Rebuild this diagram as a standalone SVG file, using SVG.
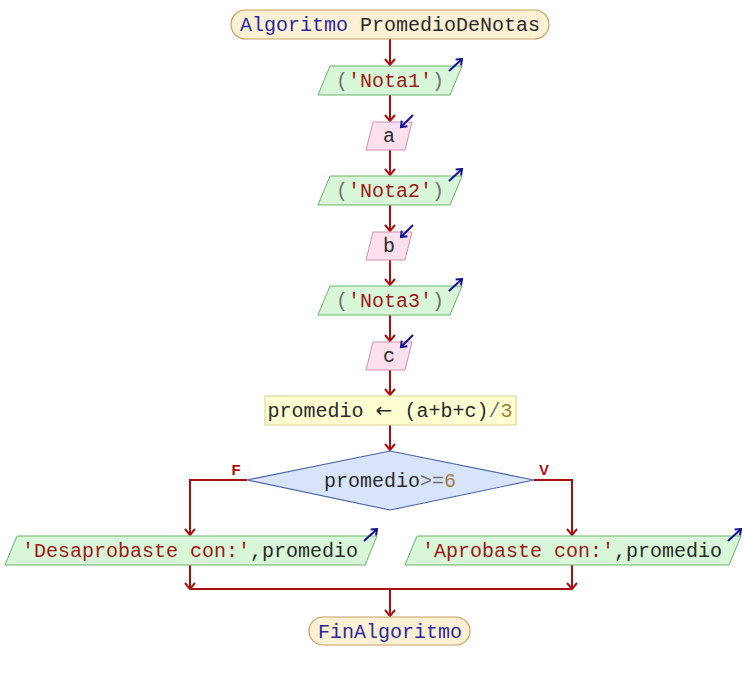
<svg xmlns="http://www.w3.org/2000/svg" width="744" height="680" viewBox="0 0 744 680">
<defs>
<style>
text{font-family:"Liberation Mono","Courier New",monospace;font-size:20px;text-anchor:middle}
.term{fill:#fdf0d4;stroke:#c8a060;stroke-width:1.2}
.out{fill:#d8f6d8;stroke:#70b070;stroke-width:1}
.inp{fill:#fde0ee;stroke:#d090b0;stroke-width:1}
.asg{fill:#ffffd2;stroke:#d6d28a;stroke-width:1}
.dec{fill:#d8e4fb;stroke:#4a66a8;stroke-width:1.2}
.kw{fill:#2a2a9a}
.id{fill:#2a2a2a}
.str{fill:#a01818}
.op{fill:#707070}
.num{fill:#a08040}
.arr{font-family:"DejaVu Sans",sans-serif;font-size:20px;fill:#2a2a2a}
.conn{fill:none;stroke:#a81010;stroke-width:2}
.icon{fill:none;stroke:#101090;stroke-width:2}
.lbl{font-family:"Liberation Sans",Arial,sans-serif;font-size:15px;font-weight:bold;fill:#b01010}
</style>
<marker id="ah" markerUnits="userSpaceOnUse" markerWidth="12" markerHeight="12" refX="0" refY="0" viewBox="-7 -6 8 12" orient="auto">
<path d="M-6,-5 L0,0 L-6,5" fill="none" stroke="#a81010" stroke-width="2"/>
</marker>
<marker id="ih" markerUnits="userSpaceOnUse" markerWidth="10" markerHeight="10" refX="0" refY="0" viewBox="-6 -5 7 10" orient="auto">
<path d="M-5,-4 L0,0 L-5,4" fill="none" stroke="#101090" stroke-width="2"/>
</marker>
</defs>
<g id="connectors">
<path class="conn" marker-end="url(#ah)" d="M390,39 V65"/>
<path class="conn" marker-end="url(#ah)" d="M390,95 V121"/>
<path class="conn" marker-end="url(#ah)" d="M390,150 V175"/>
<path class="conn" marker-end="url(#ah)" d="M390,205 V231"/>
<path class="conn" marker-end="url(#ah)" d="M390,260 V285"/>
<path class="conn" marker-end="url(#ah)" d="M390,315 V341"/>
<path class="conn" marker-end="url(#ah)" d="M390,370 V395"/>
<path class="conn" marker-end="url(#ah)" d="M390,425 V450"/>
<path class="conn" marker-end="url(#ah)" d="M247,480 H190 V535"/>
<path class="conn" marker-end="url(#ah)" d="M534,480 H572 V535"/>
<path class="conn" marker-end="url(#ah)" d="M190,565 V589"/>
<path class="conn" marker-end="url(#ah)" d="M572,565 V589"/>
<path class="conn" d="M190,589 H572"/>
<path class="conn" marker-end="url(#ah)" d="M390,589 V616"/>
<text class="lbl" x="236" y="475">F</text>
<text class="lbl" x="544" y="475">V</text>
</g>
<g id="start">
<rect class="term" x="231" y="10" width="318" height="29" rx="14.5"/>
<text x="390" y="31"><tspan class="kw">Algoritmo</tspan><tspan class="id"> PromedioDeNotas</tspan></text>
</g>
<g id="out1">
<polygon class="out" points="318,95 330,66 462,66 450,95"/>
<text x="390" y="87"><tspan class="op">(</tspan><tspan class="str">'Nota1'</tspan><tspan class="op">)</tspan></text>
<path class="icon" marker-end="url(#ih)" d="M449,71 L462,59"/>
</g>
<g id="in_a">
<polygon class="inp" points="366,150 373,122 412,122 405,150"/>
<text x="389" y="142" class="id">a</text>
<path class="icon" marker-end="url(#ih)" d="M413,115 L401,127"/>
</g>
<g id="out2">
<polygon class="out" points="318,205 330,176 462,176 450,205"/>
<text x="390" y="197"><tspan class="op">(</tspan><tspan class="str">'Nota2'</tspan><tspan class="op">)</tspan></text>
<path class="icon" marker-end="url(#ih)" d="M449,181 L462,169"/>
</g>
<g id="in_b">
<polygon class="inp" points="366,260 373,232 412,232 405,260"/>
<text x="389" y="252" class="id">b</text>
<path class="icon" marker-end="url(#ih)" d="M413,225 L401,237"/>
</g>
<g id="out3">
<polygon class="out" points="318,315 330,286 462,286 450,315"/>
<text x="390" y="307"><tspan class="op">(</tspan><tspan class="str">'Nota3'</tspan><tspan class="op">)</tspan></text>
<path class="icon" marker-end="url(#ih)" d="M449,291 L462,279"/>
</g>
<g id="in_c">
<polygon class="inp" points="366,370 373,342 412,342 405,370"/>
<text x="389" y="362" class="id">c</text>
<path class="icon" marker-end="url(#ih)" d="M413,335 L401,347"/>
</g>
<g id="assign">
<rect class="asg" x="265" y="396" width="251" height="29"/>
<text x="390" y="417"><tspan class="id">promedio </tspan><tspan class="arr">←</tspan><tspan class="id"> (a+b+c)</tspan><tspan class="op">/</tspan><tspan class="num">3</tspan></text>
</g>
<g id="decision">
<polygon class="dec" points="390,451 534,480 390,510 247,480"/>
<text x="390" y="487"><tspan class="id">promedio</tspan><tspan class="op">&gt;=</tspan><tspan class="num">6</tspan></text>
</g>
<g id="out_no">
<polygon class="out" points="5,565 17,536 377,536 365,565"/>
<text x="190" y="557"><tspan class="str">'Desaprobaste con:'</tspan><tspan class="id">,promedio</tspan></text>
<path class="icon" marker-end="url(#ih)" d="M364,541 L377,529"/>
</g>
<g id="out_yes">
<polygon class="out" points="405,565 417,536 741,536 729,565"/>
<text x="572" y="557"><tspan class="str">'Aprobaste con:'</tspan><tspan class="id">,promedio</tspan></text>
<path class="icon" marker-end="url(#ih)" d="M728,541 L741,529"/>
</g>
<g id="end">
<rect class="term" x="309" y="617" width="161" height="28" rx="14"/>
<text x="390" y="638" class="kw">FinAlgoritmo</text>
</g>
</svg>
